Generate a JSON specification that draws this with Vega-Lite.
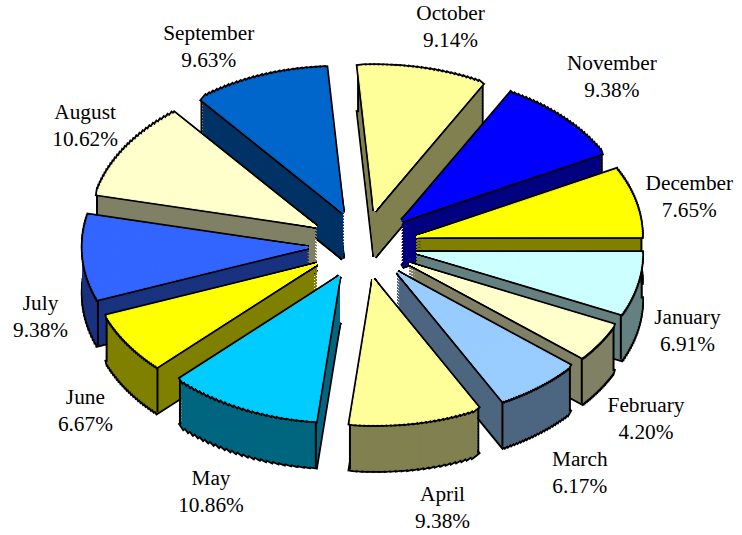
{
"$schema":"https://vega.github.io/schema/vega-lite/v6.json",
"width":742,"height":535,"padding":0,
"autosize":{"type":"fit","contains":"padding"},
"background":"white",
"data":{"values":[
{"month":"January","share":6.91},
{"month":"February","share":4.20},
{"month":"March","share":6.17},
{"month":"April","share":9.38},
{"month":"May","share":10.86},
{"month":"June","share":6.67},
{"month":"July","share":9.38},
{"month":"August","share":10.62},
{"month":"September","share":9.63},
{"month":"October","share":9.14},
{"month":"November","share":9.38},
{"month":"December","share":7.65}
]},
"transform":[
{"joinaggregate":[{"op":"sum","field":"share","as":"tot"}]},
{"stack":"share","groupby":[],"as":["s0","s1"]},
{"calculate":"datum.s0/datum.tot*2*PI","as":"t0"},
{"calculate":"datum.s1/datum.tot*2*PI","as":"t1"},
{"calculate":"(datum.t0+datum.t1)/2","as":"tm"},
{"calculate":"363+55*cos(datum.tm)","as":"xc"},
{"calculate":"245+35*sin(datum.tm)","as":"yc"},
{"calculate":"datum.tm+(datum.month=='July'?-0.115:datum.month=='September'?-0.117:0)","as":"tl"},
{"calculate":"365+330*cos(datum.tl)+(cos(datum.tl)>0?(sin(datum.tl)<0?16*abs(sin(datum.tl)):16*pow(sin(datum.tl),3)):(sin(datum.tl)>0?-16*pow(sin(datum.tl),3):0))","as":"lx"},
{"calculate":"254+243*sin(datum.tl)+(cos(datum.tl)>0?28:-16)*sin(2*datum.tl)*abs(cos(datum.tl))","as":"ly"},
{"calculate":"datum.month+'\\n'+format(datum.share,'.2f')+'%'","as":"label"}
],
"layer":[
{
"transform":[
{"calculate":"[0,1,2,3,4,5,6,7,8,9,10,11,12,13,14,15,16,17,18,19,20,21,22,23]","as":"ks"},
{"flatten":["ks"],"as":["k"]},
{"calculate":"datum.t0+(datum.t1-datum.t0)*datum.k/24","as":"a"},
{"calculate":"min(datum.t1,datum.a+(datum.t1-datum.t0)*1.5/24)","as":"b"},
{"calculate":"datum.a+(datum.t1-datum.t0)*0.5/24","as":"m"},
{"calculate":"atan2(145*sin(datum.a),225*cos(datum.a))","as":"p0"},
{"calculate":"atan2(145*sin(datum.b),225*cos(datum.b))","as":"p1"},
{"calculate":"PI/2+datum.p0+2*PI*round((datum.a-datum.p0)/(2*PI))","as":"th0"},
{"calculate":"PI/2+datum.p1+2*PI*round((datum.b-datum.p1)/(2*PI))","as":"th1"},
{"calculate":"sqrt(pow(225*cos(datum.m),2)+pow(145*sin(datum.m),2))","as":"r"},
{"calculate":"[-1,46,43,40,37,34,31,28,25,22,19,16,13,10,7,4,1]","as":"ds"},
{"flatten":["ds"],"as":["dep"]},
{"calculate":"datum.yc+(datum.dep<0?46:datum.dep)","as":"yd"},
{"calculate":"sin(datum.tm)*10000-(datum.dep<0?50:datum.dep)","as":"z"}
],
"mark":{"type":"arc"},
"encoding":{
"x":{"field":"xc","type":"quantitative","axis":null,"scale":{"domain":[0,742],"range":[0,742]}},
"y":{"field":"yd","type":"quantitative","axis":null,"scale":{"domain":[0,535],"range":[0,535]}},
"theta":{"field":"th0","type":"quantitative","scale":null,"stack":null},
"theta2":{"field":"th1"},
"radius":{"field":"r","type":"quantitative","scale":null},
"order":{"field":"z","type":"quantitative"},
"fill":{"field":"month","type":"nominal","legend":null,"sort":null,"scale":{"domain":["January","February","March","April","May","June","July","August","September","October","November","December"],"range":["#668080","#808066","#4D6680","#808050","#006680","#808000","#1A3380","#808066","#003366","#808050","#000080","#808000"]}},
"stroke":{"condition":{"test":"datum.dep<0","value":"black"},"field":"month","type":"nominal","legend":null,"sort":null,"scale":{"domain":["January","February","March","April","May","June","July","August","September","October","November","December"],"range":["#668080","#808066","#4D6680","#808050","#006680","#808000","#1A3380","#808066","#003366","#808050","#000080","#808000"]}},
"strokeWidth":{"condition":{"test":"datum.dep<0","value":4.5},"value":1}
}
},
{
"transform":[
{"calculate":"[datum.t0,datum.t1]","as":"cs"},
{"flatten":["cs"],"as":["c"]},
{"calculate":"datum.xc+225*cos(datum.c)","as":"ex"},
{"calculate":"datum.yc+145*sin(datum.c)","as":"ey"},
{"calculate":"datum.ey+46","as":"ey2"}
],
"mark":{"type":"rule","color":"black","strokeWidth":2},
"encoding":{
"x":{"field":"ex","type":"quantitative","axis":null,"scale":{"domain":[0,742],"range":[0,742]}},
"y":{"field":"ey","type":"quantitative","axis":null,"scale":{"domain":[0,535],"range":[0,535]}},
"y2":{"field":"ey2"}
}
},
{
"transform":[
{"calculate":"[0,1,2,3,4,5,6,7,8,9,10,11,12,13,14,15,16,17,18,19,20,21,22,23,24,25,26,27,28,29]","as":"ks"},
{"flatten":["ks"],"as":["k"]},
{"calculate":"datum.t0+(datum.t1-datum.t0)*datum.k/30","as":"a"},
{"calculate":"min(datum.t1,datum.a+(datum.t1-datum.t0)*1.5/30)","as":"b"},
{"calculate":"datum.a+(datum.t1-datum.t0)*0.5/30","as":"m"},
{"calculate":"atan2(145*sin(datum.a),225*cos(datum.a))","as":"p0"},
{"calculate":"atan2(145*sin(datum.b),225*cos(datum.b))","as":"p1"},
{"calculate":"PI/2+datum.p0+2*PI*round((datum.a-datum.p0)/(2*PI))","as":"th0"},
{"calculate":"PI/2+datum.p1+2*PI*round((datum.b-datum.p1)/(2*PI))","as":"th1"},
{"calculate":"sqrt(pow(225*cos(datum.m),2)+pow(145*sin(datum.m),2))","as":"r"},
{"calculate":"[0,1]","as":"ps"},
{"flatten":["ps"],"as":["pass"]}
],
"mark":{"type":"arc"},
"encoding":{
"x":{"field":"xc","type":"quantitative","axis":null,"scale":{"domain":[0,742],"range":[0,742]}},
"y":{"field":"yc","type":"quantitative","axis":null,"scale":{"domain":[0,535],"range":[0,535]}},
"theta":{"field":"th0","type":"quantitative","scale":null,"stack":null},
"theta2":{"field":"th1"},
"radius":{"field":"r","type":"quantitative","scale":null},
"order":{"field":"pass","type":"quantitative"},
"fill":{"field":"month","type":"nominal","legend":null,"sort":null,"scale":{"domain":["January","February","March","April","May","June","July","August","September","October","November","December"],"range":["#CCFFFF","#FFFFCC","#99CCFF","#FFFF99","#00CCFF","#FFFF00","#3366FF","#FFFFCC","#0066CC","#FFFF99","#0000FF","#FFFF00"]}},
"stroke":{"condition":{"test":"datum.pass==0","value":"black"},"field":"month","type":"nominal","legend":null,"sort":null,"scale":{"domain":["January","February","March","April","May","June","July","August","September","October","November","December"],"range":["#CCFFFF","#FFFFCC","#99CCFF","#FFFF99","#00CCFF","#FFFF00","#3366FF","#FFFFCC","#0066CC","#FFFF99","#0000FF","#FFFF00"]}},
"strokeWidth":{"condition":{"test":"datum.pass==0","value":4.5},"value":1}
}
},
{
"mark":{"type":"text","font":"Liberation Serif","fontSize":21.3,"lineHeight":27,"lineBreak":"\n","color":"black","align":"center","baseline":"middle"},
"encoding":{
"x":{"field":"lx","type":"quantitative","axis":null,"scale":{"domain":[0,742],"range":[0,742]}},
"y":{"field":"ly","type":"quantitative","axis":null,"scale":{"domain":[0,535],"range":[0,535]}},
"text":{"field":"label","type":"nominal"}
}
}
],
"resolve":{"scale":{"fill":"independent","stroke":"independent"}},
"config":{"view":{"stroke":null}}
}
